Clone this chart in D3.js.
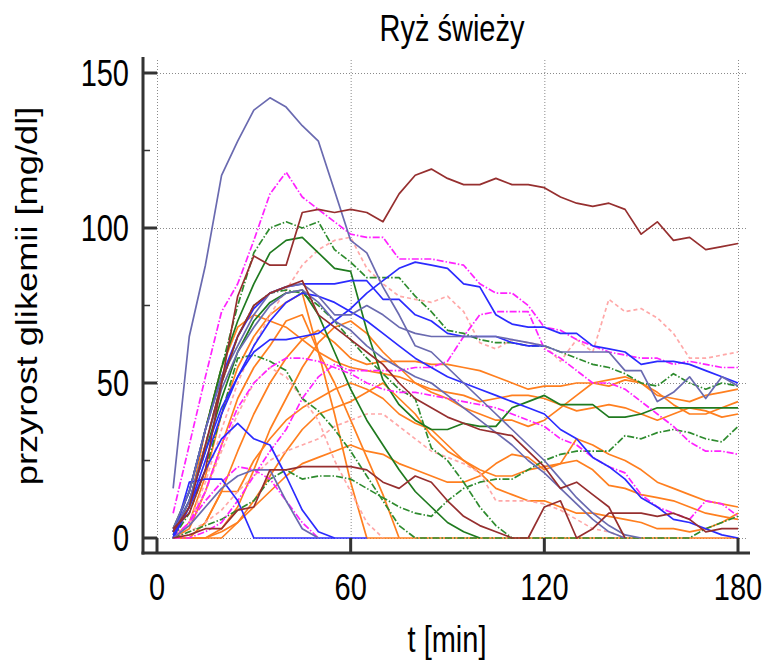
<!DOCTYPE html>
<html>
<head>
<meta charset="utf-8">
<script src="https://cdn.jsdelivr.net/npm/d3@7"></script>
<style>
  body { margin: 0; background: #fff; }
  text { font-family: "Liberation Sans", Arial, sans-serif; fill: #000; }
</style>
</head>
<body>
<div id="chart"></div>
<script>
// labels
const title = 'Ryż świeży'
const xLabel = 't [min]'
const yLabel = 'przyrost glikemii [mg/dl]'
const xTicks = [0, 60, 120, 180]
const yTicks = [0, 50, 100, 150]
const yMinorTicks = [25, 75, 125]

// kind of each curve (picks colour / dash)
const seriesKind = [
  'orange', 'orange', 'orange', 'orange', 'orange', 'orange', 'orange', 'orange',
  'pink', 'pink', 'pink',
  'greenDash', 'greenDash', 'greenDash', 'greenDash',
  'green', 'green',
  'magenta', 'magenta', 'magenta', 'magenta',
  'blue', 'blue', 'blue', 'blue', 'blue',
  'slate', 'slate', 'slate', 'slate',
  'brown', 'brown', 'brown'
]

// [t, value] pairs per curve
const seriesPoints = [
  // orange
  [[5,0],[10,10],[15,35],[20,55],[25,68],[30,72],[35,70],[40,68],[45,64],[50,60],[55,57],[60,55],[65,54],[70,53],[75,52],[80,50],[85,48],[90,47],[95,46],[100,44],[105,45],[110,46],[115,46],[120,45],[125,43],[130,41],[135,42],[140,43],[145,42],[150,40],[155,38],[160,40],[165,42],[170,41],[175,39],[180,40]],
  [[5,0],[10,5],[15,20],[20,40],[25,55],[30,65],[35,72],[40,76],[45,79],[50,60],[55,40],[60,18],[65,0],[180,0]],
  [[5,0],[10,0],[15,5],[20,15],[25,28],[30,40],[35,50],[40,58],[45,64],[50,67],[55,63],[60,58],[65,56],[70,57],[75,57],[80,57],[85,56],[90,56],[95,55],[100,54],[105,52],[110,50],[115,48],[120,49],[125,49],[130,50],[135,50],[140,49],[145,51],[150,50],[155,47],[160,43],[165,40],[170,40],[175,42],[180,44]],
  [[5,0],[10,0],[15,0],[20,3],[25,10],[30,22],[35,35],[40,45],[45,55],[50,63],[55,68],[60,70],[65,66],[70,60],[75,55],[80,50],[85,47],[90,45],[95,42],[100,40],[105,38],[110,38],[115,36],[120,38],[125,42],[130,46],[135,50],[140,51],[145,52],[150,50],[155,46],[160,45],[165,44],[170,46],[175,47],[180,48]],
  [[5,0],[10,0],[15,0],[20,0],[25,5],[30,12],[35,20],[40,28],[45,35],[50,40],[55,42],[60,44],[65,47],[70,50],[75,45],[80,40],[85,33],[90,28],[95,25],[100,22],[105,20],[110,20],[115,22],[120,23],[125,24],[130,25],[135,22],[140,17],[145,16],[150,14],[155,13],[160,12],[165,10],[170,8],[175,7],[180,6]],
  [[5,0],[10,3],[15,15],[20,30],[25,45],[30,55],[35,62],[40,70],[45,72],[50,60],[55,50],[60,38],[65,26],[70,14],[75,0]],
  [[5,0],[10,0],[15,0],[20,2],[25,5],[30,10],[35,15],[40,20],[45,24],[50,26],[55,28],[60,30],[65,28],[70,27],[75,24],[80,22],[85,20],[90,18],[95,18],[100,20],[105,24],[110,27],[115,26],[120,22],[125,24],[130,32],[135,30],[140,27],[145,25],[150,22],[155,18],[160,16],[165,14],[170,12],[175,11],[180,10]],
  [[5,0],[10,0],[15,5],[20,15],[25,15],[30,25],[35,32],[40,38],[45,42],[50,45],[55,48],[60,50],[65,48],[70,45],[75,40],[80,37],[85,35],[90,30],[95,25],[100,21],[105,16],[110,14],[115,12],[120,12],[125,10],[130,8],[135,8],[140,7],[145,6],[150,5],[155,3],[160,3],[165,2],[170,3],[175,5],[180,8]],
  // pink dashed
  [[5,0],[10,5],[15,18],[20,35],[25,50],[30,62],[35,72],[40,80],[45,88],[50,93],[55,96],[60,97],[65,87],[70,82],[75,78],[80,77],[85,76],[90,78],[95,73],[100,63],[105,61],[110,64],[115,63],[120,62],[125,57],[130,64],[135,60],[140,77],[145,73],[150,74],[155,71],[160,66],[165,58],[170,58],[175,59],[180,60]],
  [[5,0],[10,2],[15,5],[20,9],[25,15],[30,20],[35,25],[40,28],[45,30],[50,32],[55,36],[60,38],[65,40],[70,40],[75,36],[80,32],[85,28],[90,26],[95,24],[100,21],[105,12],[110,12],[115,12],[120,11],[125,9],[130,6],[135,3],[140,2],[145,0]],
  [[5,0],[10,5],[15,15],[20,28],[25,40],[30,50],[35,55],[40,52],[45,45],[50,38],[55,25],[60,15],[65,5],[70,0]],
  // green dash-dot
  [[5,2],[10,15],[15,35],[20,55],[25,75],[30,92],[35,100],[40,102],[45,100],[50,102],[55,93],[60,89],[65,84],[70,84],[75,84],[80,78],[85,73],[90,67],[95,66],[100,64],[105,63],[110,63],[115,62],[120,62],[125,60],[130,58],[135,56],[140,55],[145,53],[150,50],[155,49],[160,53],[165,50],[170,48],[175,50],[180,49]],
  [[5,1],[10,12],[15,30],[20,50],[25,65],[30,75],[35,79],[40,80],[45,79],[50,75],[55,70],[60,64],[65,58],[70,53],[75,48],[80,45],[85,29],[90,25],[95,18],[100,10],[105,4],[110,0]],
  [[5,0],[10,8],[15,22],[20,40],[25,58],[30,59],[35,57],[40,54],[45,45],[50,41],[55,35],[60,28],[65,20],[70,12],[75,4],[80,0],[165,0],[170,3],[175,5],[180,7]],
  [[5,0],[10,2],[15,4],[20,6],[25,9],[30,12],[35,19],[40,22],[45,19],[50,20],[55,20],[60,19],[65,16],[70,13],[75,10],[80,8],[85,7],[90,12],[95,16],[100,18],[105,19],[110,19],[115,22],[120,25],[125,27],[130,28],[135,28],[140,28],[145,33],[150,32],[155,34],[160,35],[165,34],[170,32],[175,31],[180,36]],
  // green solid
  [[5,3],[10,15],[15,35],[20,55],[25,70],[30,82],[35,92],[40,96],[45,97],[50,92],[55,87],[60,86],[65,67],[70,51],[75,43],[80,38],[85,35],[90,35],[95,37],[100,36],[105,36],[110,42],[115,44],[120,46],[125,43],[130,43],[135,43],[140,39],[145,39],[150,40],[155,42],[160,42],[165,42],[170,42],[175,42],[180,42]],
  [[5,2],[10,12],[15,28],[20,45],[25,60],[30,70],[35,76],[40,79],[45,80],[50,72],[55,60],[60,48],[65,38],[70,30],[75,22],[80,15],[85,10],[90,5],[95,2],[100,0]],
  // magenta dash-dot
  [[5,8],[10,30],[15,52],[20,73],[25,82],[30,96],[35,111],[40,118],[45,110],[50,106],[55,102],[60,98],[65,97],[70,97],[75,90],[80,90],[85,90],[90,89],[95,88],[100,82],[105,79],[110,79],[115,75],[120,68],[125,67],[130,64],[135,62],[140,60],[145,59],[150,58],[155,58],[160,56],[165,57],[170,56],[175,55],[180,55]],
  [[5,0],[10,0],[15,2],[20,5],[25,12],[30,20],[35,28],[40,35],[45,45],[50,52],[55,56],[60,54],[65,54],[70,54],[75,54],[80,55],[85,55],[90,57],[95,65],[100,72],[105,73],[110,73],[115,73],[120,61],[125,58],[130,54],[135,50],[140,50],[145,48],[150,44],[155,40],[160,36],[165,31],[170,28],[175,28],[180,27]],
  [[5,0],[10,5],[15,15],[20,30],[25,42],[30,50],[35,55],[40,58],[45,58],[50,57],[55,55],[60,53],[65,50],[70,48],[75,47],[80,47],[85,46],[90,45],[95,44],[100,43],[105,42],[110,40],[115,38],[120,36],[125,32],[130,30],[135,26],[140,23],[145,21],[150,14],[155,10],[160,8],[165,6],[170,12],[175,11],[180,7]],
  [[5,0],[10,5],[15,12],[20,18],[25,23],[30,22],[35,19],[40,12],[45,5],[50,0]],
  // blue
  [[5,2],[10,12],[15,28],[20,42],[25,52],[30,60],[35,64],[40,64],[45,65],[50,66],[55,70],[60,74],[65,79],[70,83],[75,87],[80,89],[85,88],[90,87],[95,82],[100,81],[105,72],[110,69],[115,68],[120,68],[125,66],[130,66],[135,62],[140,61],[145,60],[150,56],[155,57],[160,57],[165,56],[170,54],[175,52],[180,50]],
  [[5,2],[10,15],[15,35],[20,52],[25,65],[30,74],[35,79],[40,81],[45,82],[50,82],[55,82],[60,83],[65,83],[70,77],[75,77],[80,72],[85,70],[90,66],[95,65],[100,65],[105,65],[110,63],[115,62],[120,62]],
  [[5,1],[10,10],[15,25],[20,40],[25,52],[30,62],[35,70],[40,76],[45,79],[50,78],[55,76],[60,73],[65,70],[70,66],[75,62],[80,58],[85,55],[90,52],[95,50],[100,48],[105,46],[110,44],[115,42],[120,40],[125,35],[130,32],[135,26],[140,23],[145,19],[150,13],[155,10],[160,6],[165,5],[170,3],[175,1],[180,0]],
  [[5,0],[10,18],[15,19],[20,19],[25,12],[30,0],[65,0]],
  [[5,0],[10,10],[15,22],[20,32],[25,37],[30,32],[35,30],[40,20],[45,9],[50,2],[55,0]],
  // slate
  [[5,16],[10,65],[15,88],[20,117],[25,128],[30,138],[35,142],[40,139],[45,133],[50,128],[55,112],[60,96],[65,92],[70,81],[75,72],[80,62],[85,60],[90,55],[95,50],[100,45],[105,40],[110,35],[115,30],[120,25],[125,19],[130,13],[135,8],[140,4],[145,1],[150,0]],
  [[5,3],[10,15],[15,35],[20,52],[25,62],[30,72],[35,79],[40,81],[45,82],[50,78],[55,72],[60,72],[65,75],[70,72],[75,68],[80,66],[85,65],[90,65],[95,65],[100,65],[105,65],[110,64],[115,63],[120,62],[125,60],[130,60],[135,60],[140,60],[145,54],[150,54],[155,44],[160,47],[165,52],[170,45],[175,52],[180,49]],
  [[5,2],[10,12],[15,30],[20,48],[25,60],[30,68],[35,75],[40,79],[45,80],[50,76],[55,70],[60,67],[65,62],[70,58],[75,55],[80,52],[85,50],[90,46],[95,42],[100,38],[105,34],[110,30],[115,25],[120,21],[125,16],[130,11],[135,6],[140,2],[145,0]],
  [[5,0],[10,4],[15,10],[20,16],[25,20],[30,22],[35,22],[40,12],[45,3],[50,0]],
  // brown
  [[5,3],[10,8],[15,22],[20,50],[25,78],[30,91],[35,88],[40,88],[45,105],[50,106],[55,105],[60,106],[65,105],[70,102],[75,111],[80,117],[85,119],[90,116],[95,114],[100,114],[105,116],[110,114],[115,114],[120,113],[125,110],[130,108],[135,107],[140,108],[145,106],[150,98],[155,102],[160,96],[165,97],[170,93],[175,94],[180,95]],
  [[5,2],[10,10],[15,30],[20,50],[25,65],[30,75],[35,79],[40,81],[45,83],[50,72],[55,68],[60,64],[65,60],[70,56],[75,50],[80,45],[85,42],[90,39],[95,37],[100,35],[105,34],[110,33],[115,28],[120,23],[125,16],[130,18],[135,14],[140,10],[145,0]],
  [[5,0],[10,1],[15,3],[20,3],[25,9],[30,10],[35,22],[40,22],[45,23],[50,23],[55,23],[60,23],[65,22],[70,18],[75,16],[80,20],[85,18],[90,12],[95,7],[100,4],[105,2],[110,0],[115,0],[120,10],[125,12],[130,0],[135,3],[140,8],[150,8],[155,7],[160,8],[165,6],[170,2],[175,3],[180,3]]
]

const kindStyle = {
  orange:    {color: '#ff7f1f', dash: null},
  pink:      {color: '#ffa8a8', dash: '4,3'},
  greenDash: {color: '#2e8b2e', dash: '7,2,1.5,2'},
  green:     {color: '#1f7a1f', dash: null},
  magenta:   {color: '#ff22ff', dash: '7,2,1.5,2'},
  blue:      {color: '#2b2bff', dash: null},
  slate:     {color: '#6a6ab0', dash: null},
  brown:     {color: '#962f2f', dash: null}
}

const width = 763, height = 666
// the picture's text is stretched a little in height
const fontSize = 29, stretch = 1.25

const svg = d3.select('#chart').append('svg')
  .attr('width', width)
  .attr('height', height)

const x = d3.scaleLinear().domain([0, 180]).range([157, 738])
const y = d3.scaleLinear().domain([0, 150]).range([538, 73])

const axisLeft = 143, axisBottom = 553

// grid
const grid = svg.append('g').attr('stroke', '#8a8a8a').attr('stroke-width', 1)
  .attr('stroke-dasharray', '1,2')
grid.selectAll('.hg').data(yTicks).enter().append('line')
  .attr('x1', x(0)).attr('x2', 748)
  .attr('y1', d => y(d) + 0.5).attr('y2', d => y(d) + 0.5)
grid.selectAll('.vg').data(xTicks).enter().append('line')
  .attr('x1', d => x(d) + 0.5).attr('x2', d => x(d) + 0.5)
  .attr('y1', 60).attr('y2', y(0))

// curves
const line = d3.line().x(d => x(d[0])).y(d => y(d[1]))
const plot = svg.append('g').attr('fill', 'none')
  .attr('stroke-linejoin', 'round')
plot.selectAll('path').data(seriesPoints).enter().append('path')
  .attr('d', line)
  .attr('stroke', (d, i) => kindStyle[seriesKind[i]].color)
  .attr('stroke-width', 1.7)
  .attr('stroke-dasharray', (d, i) => kindStyle[seriesKind[i]].dash)

// axes
const ax = svg.append('g').attr('stroke', '#333')
ax.append('line').attr('x1', axisLeft).attr('x2', axisLeft)
  .attr('y1', 57).attr('y2', axisBottom + 1.5).attr('stroke-width', 3)
ax.append('line').attr('x1', axisLeft - 1.5).attr('x2', 750)
  .attr('y1', axisBottom).attr('y2', axisBottom).attr('stroke-width', 3)
ax.selectAll('.yt').data(yTicks).enter().append('line')
  .attr('x1', axisLeft).attr('x2', x(0))
  .attr('y1', d => y(d)).attr('y2', d => y(d)).attr('stroke-width', 3)
ax.selectAll('.ym').data(yMinorTicks).enter().append('line')
  .attr('x1', axisLeft).attr('x2', axisLeft + 7)
  .attr('y1', d => y(d)).attr('y2', d => y(d)).attr('stroke-width', 1.5)
ax.selectAll('.xt').data(xTicks).enter().append('line')
  .attr('x1', d => x(d)).attr('x2', d => x(d))
  .attr('y1', axisBottom).attr('y2', y(0)).attr('stroke-width', 3)

// text helper: place at (px, py) with vertical stretch
function label(sel, px, py, anchor, txt) {
  return sel.append('text')
    .attr('transform', `translate(${px}, ${py}) scale(1, ${stretch})`)
    .attr('text-anchor', anchor)
    .style('font-size', fontSize + 'px')
    .text(txt)
}

// tick labels
yTicks.forEach(d => label(svg, 129, y(d) + 13, 'end', d))
xTicks.forEach(d => label(svg, x(d), 600, 'middle', d))

// titles
label(svg, 452, 41, 'middle', title)
label(svg, 447, 652, 'middle', xLabel)
svg.append('text')
  .attr('transform', `translate(37, 296) rotate(-90) scale(${stretch}, 1)`)
  .attr('text-anchor', 'middle')
  .style('font-size', fontSize + 'px')
  .text(yLabel)
</script>
</body>
</html>
